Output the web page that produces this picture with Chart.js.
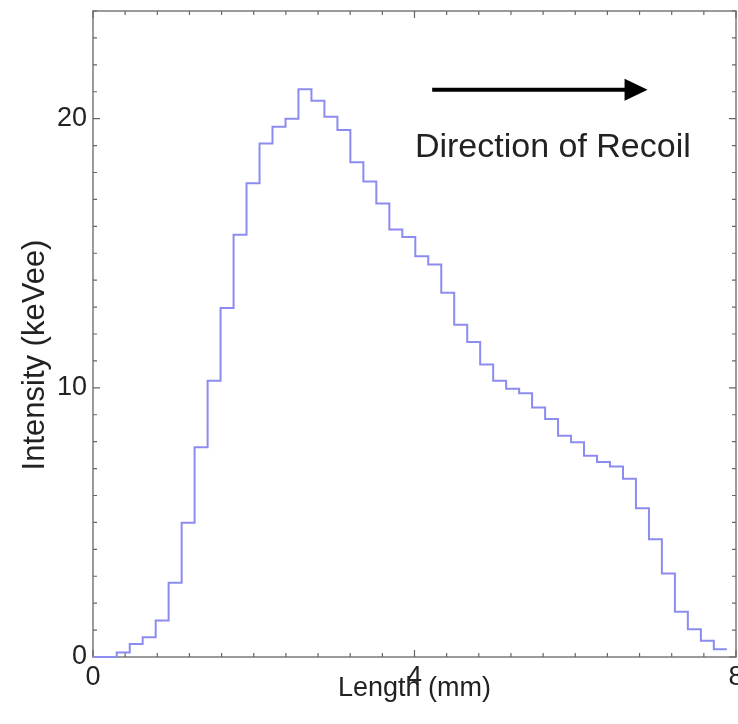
<!DOCTYPE html>
<html><head><meta charset="utf-8">
<script src="https://cdn.jsdelivr.net/npm/chart.js@4.4.1/dist/chart.umd.min.js"></script>
<style>html,body{margin:0;padding:0;background:#fff;}#wrap{width:738px;height:724px;}</style>
</head><body><div id="wrap"><canvas id="c" width="738" height="724"></canvas></div>
<script>
// Histogram bin edges (mm) and bin contents (keVee)
const binEdges = [0.295, 0.457, 0.618, 0.780, 0.941, 1.103, 1.264, 1.426, 1.587, 1.749,
  1.910, 2.072, 2.233, 2.395, 2.556, 2.718, 2.879, 3.041, 3.202, 3.364,
  3.525, 3.687, 3.848, 4.010, 4.171, 4.333, 4.494, 4.656, 4.817, 4.979,
  5.140, 5.302, 5.463, 5.625, 5.786, 5.948, 6.109, 6.271, 6.432, 6.594,
  6.755, 6.917, 7.078, 7.240, 7.401, 7.563, 7.724, 7.886];
const intensity = [0.17, 0.48, 0.73, 1.36, 2.76, 4.99, 7.79, 10.26, 12.97, 15.69,
  17.60, 19.08, 19.70, 20.00, 21.09, 20.67, 20.07, 19.58, 18.38, 17.67,
  16.85, 15.88, 15.60, 14.89, 14.58, 13.53, 12.34, 11.70, 10.87, 10.26,
  9.97, 9.80, 9.27, 8.84, 8.22, 7.98, 7.48, 7.24, 7.08, 6.62,
  5.53, 4.37, 3.10, 1.68, 1.03, 0.60, 0.29];
const xTickLabels = [0, 4, 8];
const yTickLabels = [0, 10, 20];
const xTitle = 'Length (mm)';
const yTitle = 'Intensity (keVee)';
const annotationText = 'Direction of Recoil';

const FONT = "'Liberation Sans', Arial, Helvetica, sans-serif";

const points = [{x: 0, y: 0}];
for (let i = 0; i < intensity.length; i++) points.push({x: binEdges[i], y: intensity[i]});
points.push({x: binEdges[binEdges.length - 1], y: intensity[intensity.length - 1]});

const isLabel = (v, list) => list.some(t => Math.abs(v - t) < 1e-6);

const framePlugin = {
  id: 'frame',
  beforeDatasetsDraw(chart) {
    const {ctx, chartArea: a, scales: {x, y}} = chart;
    ctx.save();
    ctx.strokeStyle = '#7a7a7a';
    ctx.lineWidth = 1.5;
    ctx.strokeRect(a.left, a.top, a.right - a.left, a.bottom - a.top);
    ctx.strokeStyle = '#666';
    ctx.lineWidth = 1.2;
    ctx.beginPath();
    for (let i = 0; i <= 20; i++) {
      const v = i * 0.4;
      const px = x.getPixelForValue(v);
      const len = isLabel(v, xTickLabels) ? 7 : 4;
      ctx.moveTo(px, a.bottom); ctx.lineTo(px, a.bottom - len);
      ctx.moveTo(px, a.top); ctx.lineTo(px, a.top + len);
    }
    for (let v = 0; v <= 24; v++) {
      const py = y.getPixelForValue(v);
      const len = isLabel(v, yTickLabels) ? 7 : 4;
      ctx.moveTo(a.left, py); ctx.lineTo(a.left + len, py);
      ctx.moveTo(a.right, py); ctx.lineTo(a.right - len, py);
    }
    ctx.stroke();
    ctx.restore();
  },
  afterDatasetsDraw(chart) {
    const {ctx, scales: {x, y}} = chart;
    ctx.save();
    // arrow
    const yA = y.getPixelForValue(21.07);
    const x0 = x.getPixelForValue(4.22);
    const xTip = x.getPixelForValue(6.90);
    const xBase = xTip - 23;
    ctx.strokeStyle = '#000';
    ctx.lineWidth = 4;
    ctx.beginPath(); ctx.moveTo(x0, yA); ctx.lineTo(xBase + 2, yA); ctx.stroke();
    ctx.fillStyle = '#000';
    ctx.beginPath(); ctx.moveTo(xTip, yA); ctx.lineTo(xBase, yA - 11); ctx.lineTo(xBase, yA + 11); ctx.closePath(); ctx.fill();
    // annotation text
    ctx.fillStyle = '#222';
    ctx.font = '34px ' + FONT;
    ctx.textAlign = 'left';
    ctx.textBaseline = 'alphabetic';
    ctx.fillText(annotationText, x.getPixelForValue(4.005), y.getPixelForValue(18.56));
    // y axis title
    ctx.translate(35, (chart.chartArea.top + chart.chartArea.bottom) / 2 + 21);
    ctx.rotate(-Math.PI / 2);
    ctx.font = '31px ' + FONT;
    ctx.textAlign = 'center';
    ctx.textBaseline = 'middle';
    ctx.fillText(yTitle, 0, 0);
    ctx.restore();
  }
};

new Chart(document.getElementById('c'), {
  type: 'line',
  data: {
    datasets: [{
      data: points,
      stepped: 'before',
      borderColor: '#8c8cf0',
      borderWidth: 2,
      pointRadius: 0,
      fill: false,
      clip: false
    }]
  },
  options: {
    responsive: false,
    animation: false,
    devicePixelRatio: 1,
    layout: {padding: {top: 11, right: 2, left: 0, bottom: 0}},
    plugins: {legend: {display: false}, tooltip: {enabled: false}},
    scales: {
      x: {
        type: 'linear', min: 0, max: 8,
        grid: {display: false, drawTicks: false},
        border: {display: false},
        ticks: {
          stepSize: 0.4, autoSkip: false, maxRotation: 0, padding: 4,
          color: '#222', font: {family: FONT, size: 27},
          callback: v => isLabel(v, xTickLabels) ? String(Math.round(v)) : ''
        },
        title: {display: true, text: xTitle, color: '#222', font: {family: FONT, size: 27}, padding: {top: 0, bottom: 19}},
        afterFit: s => { s.height = 67; s.paddingLeft = 0; s.paddingRight = 0; }
      },
      y: {
        type: 'linear', min: 0, max: 24,
        grid: {display: false, drawTicks: false},
        border: {display: false},
        ticks: {
          stepSize: 1, autoSkip: false, padding: 6,
          color: '#222', font: {family: FONT, size: 27},
          callback: v => isLabel(v, yTickLabels) ? String(Math.round(v)) : ''
        },
        title: {display: false},
        afterFit: s => { s.width = 93; s.paddingTop = 0; s.paddingBottom = 0; }
      }
    }
  },
  plugins: [framePlugin]
});
</script>
</body></html>
